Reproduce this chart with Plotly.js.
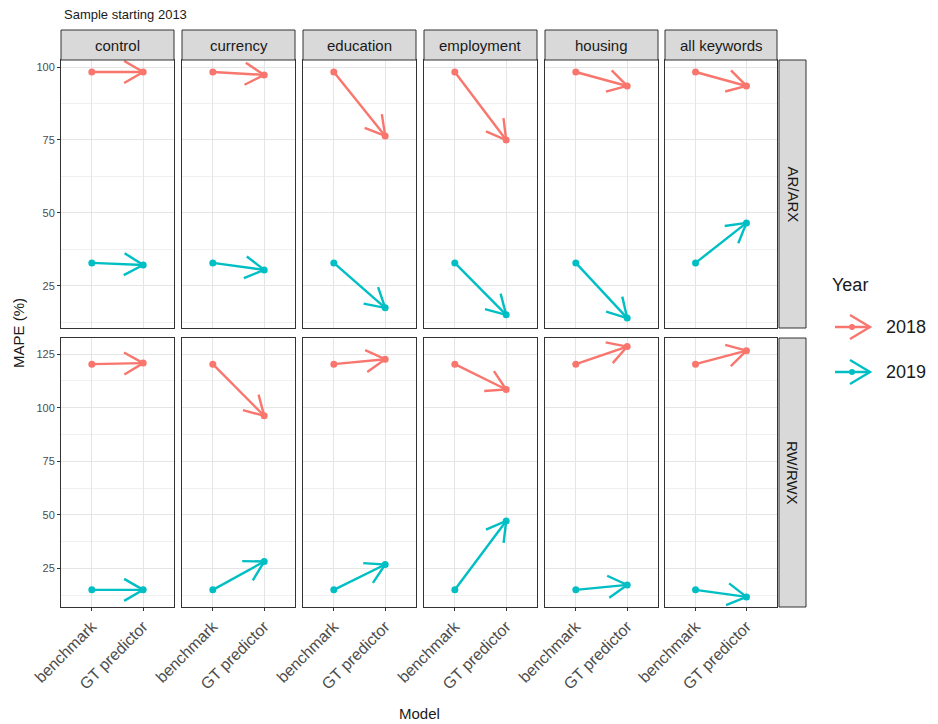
<!DOCTYPE html>
<html><head><meta charset="utf-8">
<script src="https://cdn.plot.ly/plotly-3.0.1.min.js"></script>
<style>body{margin:0}</style></head>
<body><div id="chart" style="width:938px;height:724px"></div>
<script>
var keywords = ["control", "currency", "education", "employment", "housing", "all keywords"];
var models = ["benchmark", "GT predictor"];
var rows = ["AR/ARX", "RW/RWX"];
var years = ["2018", "2019"];
var colors = {"2018": "#F8766D", "2019": "#00BFC4"};
// benchmark value per row/year, GT predictor value per keyword
var bench = {"AR/ARX": {"2018": 98.3, "2019": 32.9}, "RW/RWX": {"2018": 120.3, "2019": 15.1}};
var gtArx2018 = [98.3, 97.3, 76.4, 75.0, 93.5, 93.5];
var gtArx2019 = [32.2, 30.5, 17.5, 15.1, 14.0, 46.6];
var gtRwx2018 = [120.8, 96.2, 122.6, 108.5, 128.5, 126.6];
var gtRwx2019 = [15.1, 28.3, 26.9, 47.2, 17.4, 11.8];
var gt = {"AR/ARX": {"2018": gtArx2018, "2019": gtArx2019}, "RW/RWX": {"2018": gtRwx2018, "2019": gtRwx2019}};

var W = 938, H = 724;
var colX = [[61,174],[182,295],[303,416],[424,537],[545,658],[665,777]];
var rowY = [[60,328],[338,607]];
var yRange = [[10.6,102.4],[7.1,132.5]];
var xRange = [-0.6, 1.6];

var traces = [], layout = {width: W, height: H, margin: {l:0,r:0,t:0,b:0}, showlegend: false,
  paper_bgcolor: "white", plot_bgcolor: "white", shapes: [], annotations: []};

function note(x, y, text, size, extra) {
  var a = {xref: "paper", yref: "paper", x: x / W, y: 1 - y / H, xanchor: "center", yanchor: "middle",
    text: text, showarrow: false, font: {family: "Liberation Sans, Arial", size: size, color: "#1a1a1a"}};
  return Object.assign(a, extra || {});
}

rows.forEach(function(rname, r) {
  keywords.forEach(function(kw, c) {
    var k = r * 6 + c + 1;
    var xa = "xaxis" + (k === 1 ? "" : k), ya = "yaxis" + (k === 1 ? "" : k);
    var xr = "x" + (k === 1 ? "" : k), yr = "y" + (k === 1 ? "" : k);
    layout[xa] = {domain: [colX[c][0]/W, colX[c][1]/W], range: xRange, anchor: yr,
      tickvals: [0,1], ticktext: models, showticklabels: r === 1, tickangle: -45,
      tickfont: {family: "Liberation Sans, Arial", size: 16, color: "#4d4d4d"},
      ticks: r === 1 ? "outside" : "", ticklen: 3, tickcolor: "#333",
      showgrid: true, gridcolor: "#e5e5e5", gridwidth: 1.3, zeroline: false,
      showline: true, mirror: true, linecolor: "#333", linewidth: 1};
    layout[ya] = {domain: [1 - rowY[r][1]/H, 1 - rowY[r][0]/H], range: yRange[r], anchor: xr,
      dtick: 25, tick0: 0, showticklabels: c === 0,
      tickfont: {family: "Liberation Sans, Arial", size: 11, color: "#4d4d4d"},
      ticks: c === 0 ? "outside" : "", ticklen: 3, tickcolor: "#333",
      showgrid: true, gridcolor: "#e5e5e5", gridwidth: 1.3, zeroline: false,
      minor: {dtick: 12.5, tick0: 0, showgrid: true, gridcolor: "#f0f0f0", gridwidth: 0.7},
      showline: true, mirror: true, linecolor: "#333", linewidth: 1};
    var sx = (colX[c][1] - colX[c][0]) / (xRange[1] - xRange[0]);
    var sy = (rowY[r][1] - rowY[r][0]) / (yRange[r][1] - yRange[r][0]);
    years.forEach(function(yr0) {
      var v0 = bench[rname][yr0], v1 = gt[rname][yr0][c];
      traces.push({x: [0, 1], y: [v0, v1], xaxis: xr, yaxis: yr, type: "scatter", mode: "lines+markers",
        line: {color: colors[yr0], width: 2.4}, marker: {color: colors[yr0], size: 7}, hoverinfo: "skip"});
      // open arrowhead at GT end, computed in pixel space
      var dx = sx, dy = (v1 - v0) * sy, len = Math.sqrt(dx*dx + dy*dy);
      var ux = dx / len, uy = dy / len, L = 22, a = Math.PI / 6;
      var hx = [], hy = [];
      [a, -a].forEach(function(t, i) {
        var rx = ux * Math.cos(t) - uy * Math.sin(t), ry = ux * Math.sin(t) + uy * Math.cos(t);
        hx.push(1 - L * rx / sx); hy.push(v1 - L * ry / sy);
        if (i === 0) { hx.push(1); hy.push(v1); }
      });
      traces.push({x: hx, y: hy, xaxis: xr, yaxis: yr, type: "scatter", mode: "lines",
        line: {color: colors[yr0], width: 2.4}, hoverinfo: "skip"});
    });
    if (r === 0) {
      layout.shapes.push({type: "rect", xref: "paper", yref: "paper", x0: colX[c][0]/W, x1: colX[c][1]/W,
        y0: 1 - 60/H, y1: 1 - 30/H, fillcolor: "#d9d9d9", line: {color: "#333", width: 1}});
      layout.annotations.push(note((colX[c][0] + colX[c][1]) / 2, 45, kw, 15));
    }
  });
  layout.shapes.push({type: "rect", xref: "paper", yref: "paper", x0: 779/W, x1: 806/W,
    y0: 1 - rowY[r][1]/H, y1: 1 - rowY[r][0]/H, fillcolor: "#d9d9d9", line: {color: "#333", width: 1}});
  layout.annotations.push(note(792.5, (rowY[r][0] + rowY[r][1]) / 2, rname, 15, {textangle: 90}));
});

layout.annotations.push(
  note(62, 14, "Sample starting 2013", 13, {xanchor: "left"}),
  note(419, 713, "Model", 15),
  note(18, 333, "MAPE (%)", 15, {textangle: -90}),
  note(830, 285, "Year", 18, {xanchor: "left"})
);
// legend keys
years.forEach(function(yr0, i) {
  var cy = 327 + i * 45, col = colors[yr0];
  layout.shapes.push({type: "line", xref: "paper", yref: "paper", x0: 835/W, x1: 870/W, y0: 1 - cy/H, y1: 1 - cy/H, line: {color: col, width: 2.4}});
  layout.shapes.push({type: "path", xref: "paper", yref: "paper",
    path: "M" + 850/W + "," + (1 - (cy - 12)/H) + " L" + 870/W + "," + (1 - cy/H) + " L" + 850/W + "," + (1 - (cy + 12)/H),
    line: {color: col, width: 2.4}});
  layout.shapes.push({type: "circle", xref: "paper", yref: "paper", x0: 849/W, x1: 855/W, y0: 1 - (cy + 3)/H, y1: 1 - (cy - 3)/H, fillcolor: col, line: {color: col, width: 0}});
  layout.annotations.push(note(884, cy, yr0, 18, {xanchor: "left"}));
});

Plotly.newPlot("chart", traces, layout, {displayModeBar: false});
</script></body></html>
